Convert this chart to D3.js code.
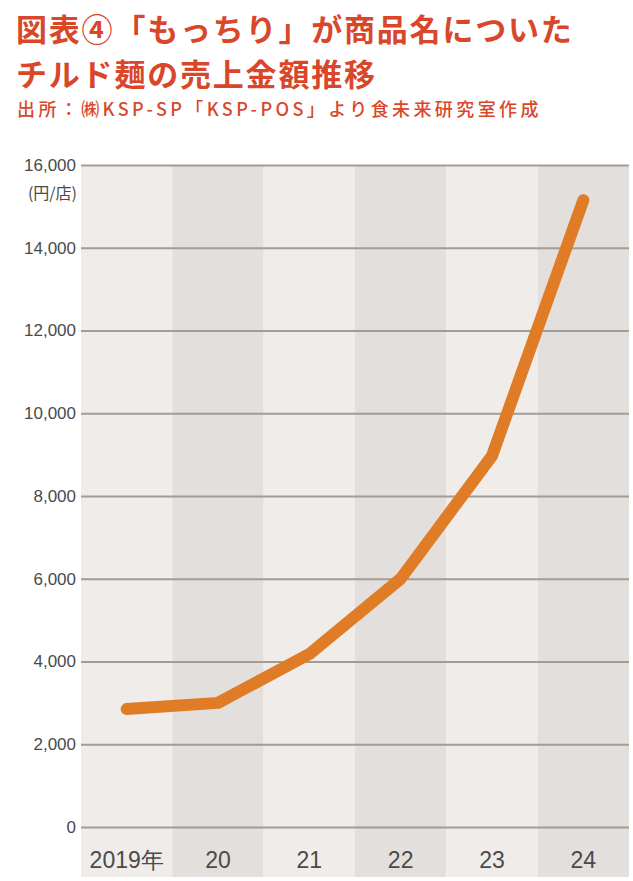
<!DOCTYPE html>
<html><head><meta charset="utf-8">
<script src="https://cdn.jsdelivr.net/npm/d3@7"></script>
<style>body{margin:0;background:#fff}svg{display:block}</style>
</head><body><div id="chart"></div>
<script>
const years = ["2019年", "20", "21", "22", "23", "24"];
const values = [2850, 3000, 4180, 6000, 8970, 15150];
const yTicks = [0, 2000, 4000, 6000, 8000, 10000, 12000, 14000, 16000];
const titleLines = ["図表④「もっちり」が商品名についた", "チルド麺の売上金額推移"];
const sourceText = "出所：㈱KSP-SP「KSP-POS」より食未来研究室作成";
const unitText = "(円/店)";

(function () {
const W = 633, H = 881;
const mLeft = 81, mRight = 629, mTop = 165, zeroY = 827, mBottom = 877;
const svg = d3.select("#chart").append("svg").attr("width", W).attr("height", H);
const cjk = "'Noto Sans CJK JP', 'Noto Sans', sans-serif";

svg.selectAll("text.title").data(titleLines).join("text").attr("class", "title")
  .attr("x", 16).attr("y", (d, i) => 41 + i * 45)
  .attr("font-family", cjk).attr("font-size", 31).attr("font-weight", 700)
  .attr("letter-spacing", 1.8).attr("fill", "#d9472b").text(d => d);
svg.append("text").attr("x", 17).attr("y", 116)
  .attr("font-family", cjk).attr("font-size", 18).attr("font-weight", 500)
  .attr("letter-spacing", 3.4).attr("fill", "#d9472b").text(sourceText);

const x = d3.scaleBand().domain(years).range([mLeft, mRight]).padding(0);
const y = d3.scaleLinear().domain([0, 16000]).range([zeroY, mTop]);

svg.selectAll("rect.band").data(years).join("rect")
  .attr("x", d => x(d)).attr("y", mTop).attr("width", x.bandwidth()).attr("height", mBottom - mTop)
  .attr("fill", (d, i) => i % 2 ? "#e3dfdc" : "#f0ecea");

const yAxis = d3.axisLeft(y).tickValues(yTicks).tickSize(0).tickFormat(d3.format(","));
const gy = svg.append("g").attr("transform", `translate(${mLeft},0)`).call(yAxis);
gy.select(".domain").remove();
gy.selectAll("text").attr("x", -5).attr("font-family", "'Liberation Sans', Arial, sans-serif")
  .attr("font-size", 17).attr("fill", "#4a4a4a");
gy.selectAll(".tick").append("line").attr("x1", 0).attr("x2", mRight - mLeft)
  .attr("stroke", "#a39c93").attr("stroke-width", 2);

svg.append("text").attr("x", 77).attr("y", 199).attr("text-anchor", "end")
  .attr("font-family", cjk).attr("font-size", 16).attr("fill", "#4a4a4a").text(unitText);

const xAxis = d3.axisBottom(x).tickSize(0);
const gx = svg.append("g").attr("transform", `translate(0,${zeroY})`).call(xAxis);
gx.select(".domain").remove();
gx.selectAll("text").attr("y", 0).attr("dy", 0).attr("transform", "translate(0,41)")
  .attr("font-family", "'Liberation Sans', Arial, sans-serif").attr("font-size", 23)
  .attr("fill", "#4a4a4a");

const line = d3.line().x((d, i) => x(years[i]) + x.bandwidth() / 2).y(d => y(d));
svg.append("path").datum(values).attr("d", line).attr("fill", "none")
  .attr("stroke", "#e07c26").attr("stroke-width", 12)
  .attr("stroke-linecap", "round").attr("stroke-linejoin", "round");
})();
</script></body></html>
